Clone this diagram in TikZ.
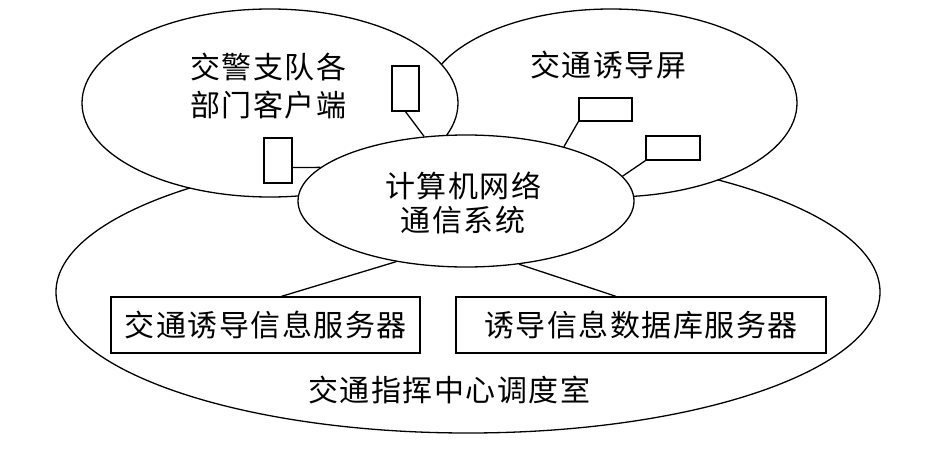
\documentclass[tikz,border=0pt]{standalone}
\usepackage{fontspec}
\newfontfamily\cjk[LetterSpace=5]{Noto Sans CJK SC}
\usetikzlibrary{shapes.geometric}
\begin{document}
\begin{tikzpicture}[x=1pt,y=-1pt,
  every node/.style={inner sep=0pt},
  zone/.style={ellipse,draw,fill=white,line width=1.3pt},
  dev/.style={rectangle,draw,fill=white,line width=1.3pt},
  conn/.style={line width=1.3pt},
  lbl/.style={font=\cjk\fontsize{30}{36}\selectfont,align=center},
]
\useasboundingbox[fill=white] (0,0) rectangle (952,452);
% zones
\node[zone,minimum width=824pt,minimum height=282pt] (room) at (468,292) {};
\node[zone,minimum width=372pt,minimum height=188pt] (scr) at (611,103) {};
\node[zone,minimum width=376pt,minimum height=188pt] (cli) at (270,103) {};
\node[zone,minimum width=336pt,minimum height=132pt] (net) at (466,201) {};
% small devices
\node[dev,minimum width=27pt,minimum height=45pt] (c1) at (405.5,88.5) {};
\node[dev,minimum width=28pt,minimum height=45pt] (c2) at (278,160.5) {};
\node[dev,minimum width=53pt,minimum height=23pt] (s1) at (605.5,109.5) {};
\node[dev,minimum width=54pt,minimum height=24pt] (s2) at (673,148) {};
% servers
\node[dev,lbl,minimum width=309pt,minimum height=56pt] (srv1) at (265.5,325) {交通诱导信息服务器};
\node[dev,lbl,minimum width=370pt,minimum height=56pt] (srv2) at (641,325) {诱导信息数据库服务器};
% connectors
\draw[conn] (c1.south) -- (net.123);
\draw[conn] ([yshift=-7pt]c2.east) -- (net.167);
\draw[conn] (s1.south west) -- (net.29);
\draw[conn] (s2.south west) -- (net.9);
\draw[conn] (net.-139) -- ([xshift=16pt]srv1.north);
\draw[conn] (net.-50) -- ([xshift=-25pt]srv2.north);
% labels
\node[lbl,font=\cjk\fontsize{30}{38}\selectfont] (tcli) at (268,86) {交警支队各\\部门客户端};
\node[lbl] (tscr) at (608,65) {交通诱导屏};
\node[lbl,font=\cjk\fontsize{30}{34}\selectfont] (tnet) at (463,203) {计算机网络\\通信系统};
\node[lbl] (troom) at (449,390) {交通指挥中心调度室};
\end{tikzpicture}
\end{document}
